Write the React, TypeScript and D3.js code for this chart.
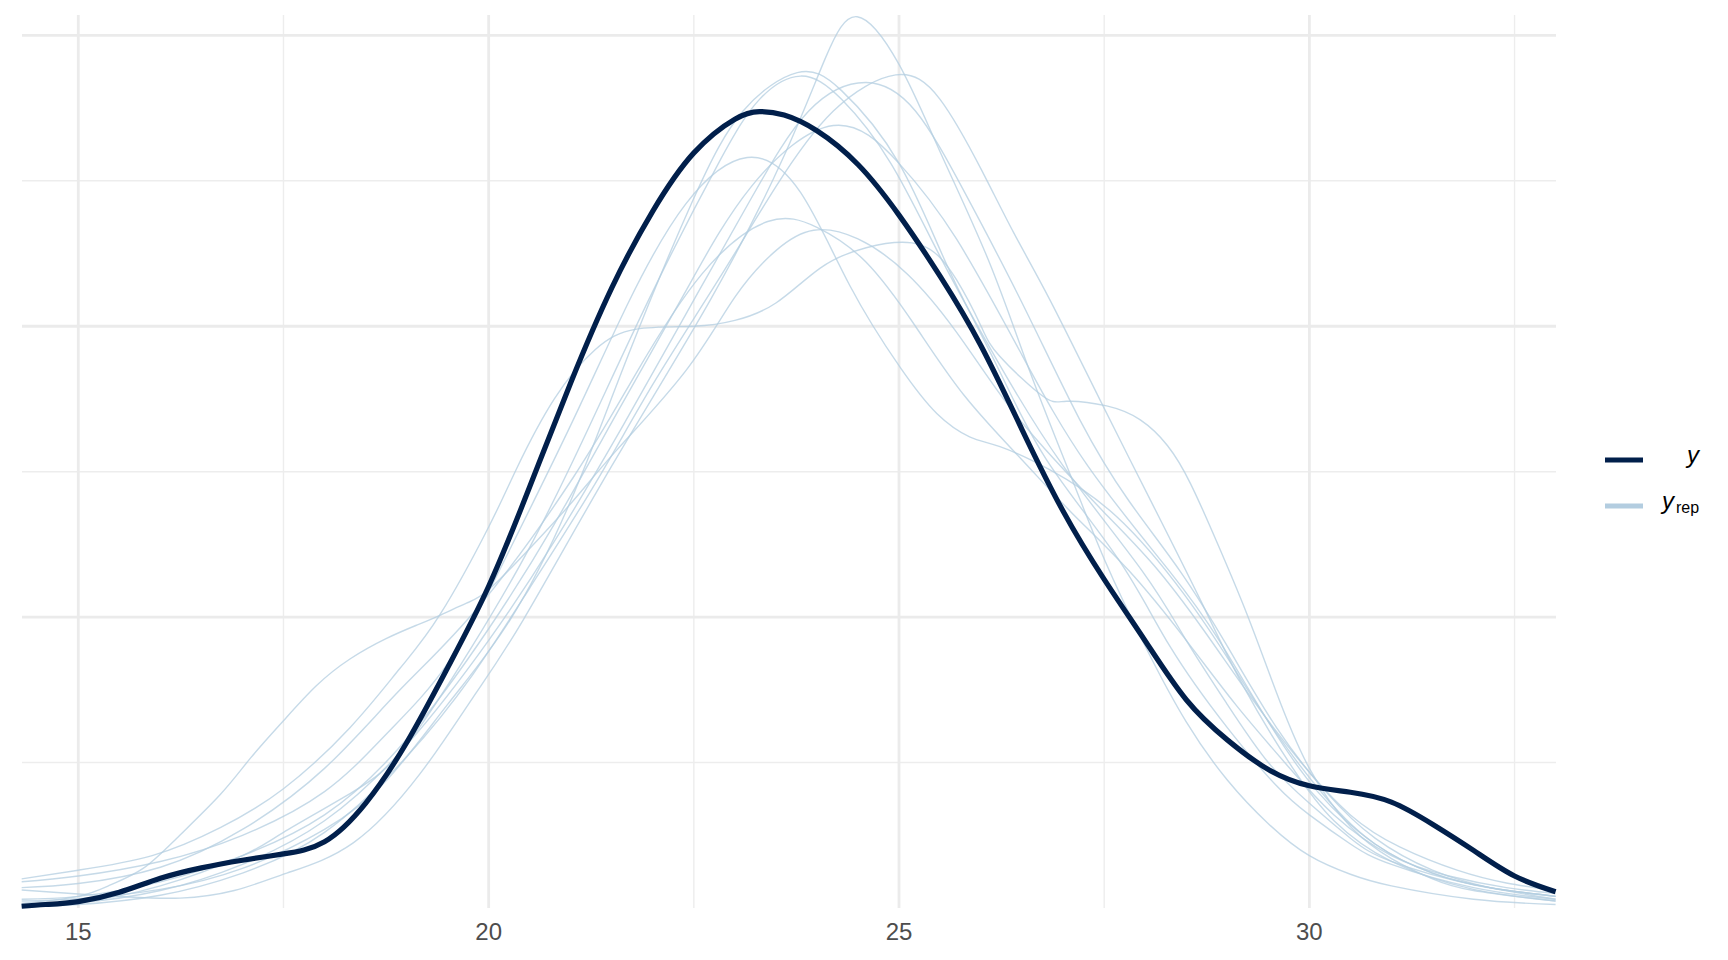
import * as d3 from "d3";
import React from "react";

const yObs: [number, number][] = [
  [14.31, 0.0003], [14.6, 0.0006], [15, 0.0011], [15.5, 0.0027], [16, 0.0051],
  [16.5, 0.0069], [17, 0.0082], [17.5, 0.0093], [18, 0.0114], [18.5, 0.018],
  [19, 0.0284], [19.5, 0.0413], [20, 0.0553], [20.5, 0.0724], [21, 0.0903],
  [21.5, 0.1066], [22, 0.1198], [22.5, 0.1298], [23, 0.1356], [23.3, 0.1369],
  [23.6, 0.1363], [24, 0.1336], [24.5, 0.1278], [25, 0.1191], [25.5, 0.1086],
  [26, 0.0966], [26.5, 0.0822], [27, 0.0682], [27.5, 0.0565], [28, 0.0459],
  [28.5, 0.0358], [29, 0.0289], [29.5, 0.0238], [30, 0.021], [30.5, 0.0199],
  [31, 0.0182], [31.5, 0.0144], [32, 0.0099], [32.5, 0.0055], [33, 0.0028],
];

// replicated densities (y_rep), one array per draw
const rep1: [number, number][] = [
  [14.31, 0.0031], [15, 0.0024], [15.6, 0.0019], [16.24, 0.0017], [16.9, 0.003],
  [17.54, 0.006], [18.35, 0.0112], [19.16, 0.023], [19.8, 0.036], [20.42, 0.0495],
  [21.5, 0.076], [22.7, 0.1045], [23.59, 0.129], [24.1, 0.146], [24.49, 0.1532],
  [25.0, 0.145], [25.5, 0.13], [26.1, 0.111], [26.6, 0.092], [27.1, 0.074],
  [27.5, 0.06], [28, 0.045], [28.5, 0.032], [29, 0.022], [29.5, 0.0145],
  [30, 0.009], [30.5, 0.0058], [31, 0.0038], [32, 0.0015], [33, 0.0006],
];
const rep2: [number, number][] = [
  [14.31, 0.0012], [15, 0.0016], [16, 0.0032], [17, 0.0068], [18, 0.0135],
  [18.76, 0.022], [19.5, 0.035], [20.26, 0.0495], [21, 0.07], [21.7, 0.095],
  [22.49, 0.1217], [23.1, 0.137], [23.76, 0.1436], [24.3, 0.1405], [25, 0.128],
  [25.6, 0.11], [26.2, 0.093], [26.8, 0.077], [27.67, 0.06], [28.3, 0.045],
  [29, 0.031], [29.6, 0.021], [30, 0.016], [30.5, 0.011], [31, 0.0075],
  [32, 0.0035], [33, 0.0015],
];
const rep3: [number, number][] = [
  [14.31, 0.0005], [15, 0.001], [16, 0.0038], [17, 0.009], [17.5, 0.013],
  [18.35, 0.02], [19, 0.028], [19.8, 0.045], [20.5, 0.062], [21.2, 0.082],
  [22, 0.106], [22.8, 0.128], [23.3, 0.139], [23.8, 0.143], [24.3, 0.139],
  [24.9, 0.128], [25.5, 0.112], [26.2, 0.094], [27, 0.076], [27.96, 0.058],
  [28.5, 0.046], [29, 0.035], [29.5, 0.025], [30, 0.018], [30.5, 0.012],
  [31, 0.008], [32, 0.004], [33, 0.002],
];
const rep4: [number, number][] = [
  [14.31, 0.0002], [15, 0.0006], [16, 0.0022], [17, 0.006], [18, 0.013],
  [19, 0.026], [19.8, 0.04], [20.5, 0.055], [21.3, 0.073], [22, 0.09],
  [22.8, 0.108], [23.5, 0.124], [24.2, 0.137], [24.96, 0.1432], [25.5, 0.139],
  [26.0, 0.127], [26.4, 0.116], [26.84, 0.1045], [27.45, 0.0873], [28.06, 0.0702],
  [28.67, 0.053], [29.2, 0.038], [29.8, 0.024], [30.3, 0.015], [31, 0.008],
  [32, 0.0032], [33, 0.0012],
];
const rep5: [number, number][] = [
  [14.31, 0.0006], [15, 0.0009], [16, 0.003], [17, 0.0075], [18, 0.015],
  [19, 0.028], [20, 0.046], [20.8, 0.063], [21.6, 0.082], [22.4, 0.102],
  [23.2, 0.122], [23.9, 0.137], [24.6, 0.1419], [25.2, 0.137], [25.8, 0.123],
  [26.5, 0.104], [27.2, 0.084], [27.8, 0.07], [28.42, 0.058], [29, 0.045],
  [29.6, 0.031], [30.2, 0.02], [30.8, 0.012], [31.5, 0.0065], [32.2, 0.0035],
  [33, 0.0015],
];
const rep6: [number, number][] = [
  [14.31, 0.0015], [15, 0.002], [16, 0.0045], [17, 0.009], [18, 0.016],
  [19, 0.029], [20, 0.048], [20.8, 0.066], [21.6, 0.086], [22.4, 0.106],
  [23.2, 0.124], [24.2, 0.1345], [25, 0.128], [25.7, 0.115], [26.5, 0.095],
  [27.3, 0.076], [28.29, 0.058], [28.9, 0.046], [29.5, 0.032], [30.1, 0.02],
  [30.8, 0.011], [31.5, 0.006], [32.2, 0.0035], [33, 0.002],
];
const rep7: [number, number][] = [
  [14.31, 0.0045], [15, 0.0055], [16, 0.008], [17, 0.0125], [18, 0.02],
  [18.76, 0.03], [19.5, 0.042], [20.2, 0.06], [21, 0.083], [21.7, 0.104],
  [22.4, 0.121], [23.15, 0.129], [23.8, 0.123], [24.4, 0.107], [25.01, 0.093],
  [25.46, 0.085], [25.86, 0.081], [26.23, 0.0793], [26.84, 0.0753], [27.65, 0.0673],
  [28.47, 0.054], [29.07, 0.0415], [29.6, 0.03], [30.2, 0.019], [30.8, 0.011],
  [31.5, 0.006], [32.2, 0.0035], [33, 0.002],
];
const rep8: [number, number][] = [
  [14.31, 0.0035], [15, 0.0042], [16, 0.007], [17, 0.0135], [18, 0.024],
  [18.92, 0.0375], [19.89, 0.052], [21.03, 0.074], [21.8, 0.092], [22.6, 0.109],
  [23.4, 0.118], [24.0, 0.117], [24.6, 0.111], [25.2, 0.1], [25.8, 0.088],
  [26.5, 0.077], [27.1, 0.068], [27.8, 0.058], [28.5, 0.046], [29.1, 0.035],
  [29.7, 0.025], [30.3, 0.016], [31, 0.009], [31.7, 0.0055], [32.4, 0.0035],
  [33, 0.0025],
];
const rep9: [number, number][] = [
  [14.31, 0.0008], [15, 0.002], [15.4, 0.004], [15.79, 0.0068], [16.2, 0.012],
  [16.73, 0.0195], [17.1, 0.0258], [17.5, 0.0322], [17.9, 0.0382], [18.31, 0.0428],
  [18.75, 0.0463], [19.12, 0.0486], [19.42, 0.0504], [19.73, 0.0524], [20, 0.0547],
  [20.5, 0.0618], [21.03, 0.07], [21.56, 0.0787], [22.41, 0.0925], [23.0, 0.105],
  [23.5, 0.113], [23.96, 0.1165], [24.5, 0.115], [25.1, 0.109], [25.7, 0.099],
  [26.3, 0.087], [26.9, 0.077], [27.5, 0.068], [28.1, 0.059], [28.7, 0.048],
  [29.3, 0.036], [29.9, 0.025], [30.5, 0.016], [31.1, 0.0105], [31.8, 0.0065],
  [32.4, 0.0043], [33, 0.003],
];
const rep10: [number, number][] = [
  [14.31, 0.005], [15, 0.0065], [15.9, 0.009], [16.73, 0.0138], [17.5, 0.0205],
  [18.31, 0.031], [18.92, 0.0412], [19.41, 0.0505], [20.0, 0.0655], [20.34, 0.0755],
  [20.8, 0.0875], [21.3, 0.096], [21.8, 0.0995], [22.5, 0.1], [23, 0.101],
  [23.5, 0.104], [24.04, 0.11], [24.6, 0.1135], [25.26, 0.114], [25.7, 0.108],
  [26.0, 0.1], [26.23, 0.0948], [26.75, 0.088], [27.04, 0.0871], [27.53, 0.0863],
  [27.94, 0.0839], [28.27, 0.0795], [28.55, 0.073], [28.87, 0.063], [29.24, 0.0505],
  [29.6, 0.037], [30, 0.024], [30.5, 0.014], [31, 0.0085], [31.5, 0.005],
  [32, 0.003], [33, 0.0012],
];

const yRep = [rep1, rep2, rep3, rep4, rep5, rep6, rep7, rep8, rep9, rep10];

const xMajor = [15, 20, 25, 30];
const xMinor = [17.5, 22.5, 27.5, 32.5];
const yMajor = [0.05, 0.1, 0.15];
const yMinor = [0.025, 0.075, 0.125];

const DARK = "#011f4b";
const LIGHT = "#b3cde0";

const App: React.FC = () => {
  const width = 1728;
  const height = 960;
  const panel = { left: 22, right: 1556, top: 15, bottom: 908 };

  const x = d3.scaleLinear().domain([14.314, 33.005]).range([panel.left, panel.right]);
  const y = d3.scaleLinear().domain([0, 0.1535]).range([panel.bottom, panel.top]);

  const line = d3
    .line<[number, number]>()
    .x((d) => x(d[0]))
    .y((d) => y(d[1]))
    .curve(d3.curveNatural);

  return (
    <svg
      width={width}
      height={height}
      style={{ position: "absolute", left: 0, top: 0, background: "#fff" }}
      fontFamily="'Liberation Sans', Arial, sans-serif"
    >
      {/* grid */}
      <g>
        {yMinor.map((v) => (
          <line key={"ym" + v} x1={panel.left} x2={panel.right} y1={y(v)} y2={y(v)} stroke="#EDEDED" strokeWidth={1.4} />
        ))}
        {xMinor.map((v) => (
          <line key={"xm" + v} x1={x(v)} x2={x(v)} y1={panel.top} y2={panel.bottom} stroke="#EDEDED" strokeWidth={1.4} />
        ))}
        {yMajor.map((v) => (
          <line key={"yM" + v} x1={panel.left} x2={panel.right} y1={y(v)} y2={y(v)} stroke="#EBEBEB" strokeWidth={2.8} />
        ))}
        {xMajor.map((v) => (
          <line key={"xM" + v} x1={x(v)} x2={x(v)} y1={panel.top} y2={panel.bottom} stroke="#EBEBEB" strokeWidth={2.8} />
        ))}
      </g>

      {/* replicated densities */}
      <g fill="none" stroke={LIGHT} strokeWidth={1.4} strokeOpacity={0.75}>
        {yRep.map((r, i) => (
          <path key={i} d={line(r) || ""} />
        ))}
      </g>

      {/* observed density */}
      <path d={line(yObs) || ""} fill="none" stroke={DARK} strokeWidth={5.2} strokeLinejoin="round" />

      {/* x axis labels */}
      <g fill="#4d4d4d" fontSize={24} textAnchor="middle">
        {xMajor.map((v) => (
          <text key={v} x={x(v)} y={940}>
            {v}
          </text>
        ))}
      </g>

      {/* legend */}
      <g>
        <line x1={1605} x2={1643} y1={460} y2={460} stroke={DARK} strokeWidth={5} />
        <line x1={1605} x2={1643} y1={506} y2={506} stroke={LIGHT} strokeWidth={5} />
        <text x={1699} y={463} fontSize={24} fontStyle="italic" textAnchor="end" fill="#000">
          y
        </text>
        <text x={1662} y={509} fontSize={24} fill="#000">
          <tspan fontStyle="italic">y</tspan>
          <tspan fontSize={16} dx={2} dy={4}>rep</tspan>
        </text>
      </g>
    </svg>
  );
};

export default App;
